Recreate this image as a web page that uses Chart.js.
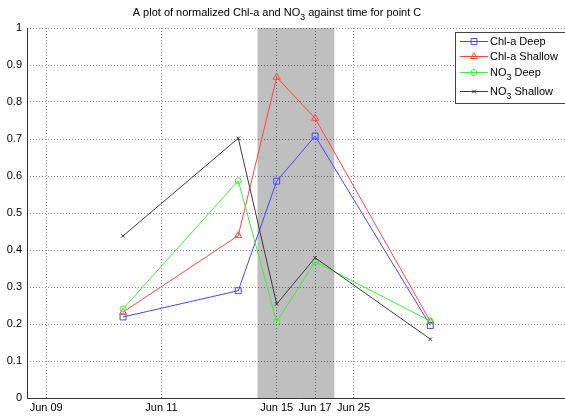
<!DOCTYPE html>
<html><head><meta charset="utf-8">
<script src="https://cdn.jsdelivr.net/npm/chart.js@4/dist/chart.umd.min.js"></script>
<style>html,body{margin:0;padding:0;background:#fff;overflow:hidden;width:565px;height:416px}</style>
</head><body>
<canvas id="c" width="570" height="416"></canvas>
<script>
const titleText = 'A plot of normalized Chl-a and NO₃ against time for point C';
const xPositions = [2, 5, 6, 7, 10];
const tickPositions = [0, 3, 6, 7, 8];
const tickLabels = ['Jun 09', 'Jun 11', 'Jun 15', 'Jun 17', 'Jun 25'];
const shadeRange = [5.5, 7.5];
const seriesNames = ['Chl-a Deep', 'Chl-a Shallow', 'NO₃ Deep', 'NO₃ Shallow'];
const chlaDeep = [0.219, 0.290, 0.586, 0.708, 0.196];
const chlaShallow = [0.232, 0.439, 0.867, 0.756, 0.207];
const no3Deep = [0.241, 0.587, 0.206, 0.368, 0.208];
const no3Shallow = [0.438, 0.702, 0.254, 0.379, 0.159];
const yMin = 0, yMax = 1, yStep = 0.1;
const xMin = -0.5, xMax = 13.5;

const FONT_FAMILY = '"Liberation Sans", Arial, sans-serif';
const colors = ['rgb(70,70,255)', 'rgb(255,70,70)', 'rgb(60,240,60)', 'rgb(60,60,60)'];
const styles = ['rect', 'triangle', 'circle', 'crossRot'];
const radii = [4.2, 4, 3, 2.5];
const seriesValues = [chlaDeep, chlaShallow, no3Deep, no3Shallow];

function drawRich(ctx, text, x, y, size, align) {
  const segs = [];
  for (const ch of text) {
    const sub = ch === '₃';
    const c = sub ? '3' : ch;
    if (segs.length && segs[segs.length - 1].sub === sub) segs[segs.length - 1].t += c;
    else segs.push({t: c, sub});
  }
  let total = 0;
  for (const s of segs) {
    ctx.font = (s.sub ? size * 0.8 : size) + 'px ' + FONT_FAMILY;
    s.w = ctx.measureText(s.t).width;
    total += s.w;
  }
  let cx = align === 'center' ? x - total / 2 : (align === 'right' ? x - total : x);
  ctx.textAlign = 'left';
  ctx.textBaseline = 'alphabetic';
  for (const s of segs) {
    ctx.font = (s.sub ? size * 0.8 : size) + 'px ' + FONT_FAMILY;
    ctx.fillText(s.t, cx, s.sub ? y + size * 0.38 : y);
    cx += s.w;
  }
}

function marker(ctx, style, r, x, y, color) {
  ctx.save();
  ctx.strokeStyle = color; ctx.lineWidth = 1; ctx.beginPath();
  if (style === 'rect') { const s = r * Math.SQRT1_2; ctx.rect(x - s, y - s, 2 * s, 2 * s); }
  else if (style === 'circle') { ctx.arc(x, y, r, 0, Math.PI * 2); }
  else if (style === 'triangle') {
    const h = r * 1.5, side = r * 3 / Math.sqrt(3);
    ctx.moveTo(x, y - h * 2 / 3); ctx.lineTo(x - side / 2, y + h / 3); ctx.lineTo(x + side / 2, y + h / 3); ctx.closePath();
  } else { const d = r * Math.SQRT1_2; ctx.moveTo(x - d, y - d); ctx.lineTo(x + d, y + d); ctx.moveTo(x + d, y - d); ctx.lineTo(x - d, y + d); }
  ctx.stroke(); ctx.restore();
}

const shadePlugin = {
  id: 'shade',
  beforeDraw(chart) {
    const {ctx, chartArea, scales} = chart;
    const x0 = scales.x.getPixelForValue(shadeRange[0]);
    const x1 = scales.x.getPixelForValue(shadeRange[1]);
    ctx.save();
    ctx.fillStyle = '#bfbfbf';
    ctx.fillRect(x0, chartArea.top, x1 - x0, chartArea.bottom - chartArea.top);
    ctx.restore();
  }
};

const overlayPlugin = {
  id: 'overlay',
  afterDraw(chart) {
    const ctx = chart.ctx;
    const ca = chart.chartArea;
    ctx.save();
    ctx.setLineDash([]);
    ctx.strokeStyle = '#333'; ctx.lineWidth = 1;
    ctx.beginPath();
    ctx.moveTo(Math.round(ca.left) + 0.5, ca.top);
    ctx.lineTo(Math.round(ca.left) + 0.5, Math.round(ca.bottom) + 0.5);
    ctx.lineTo(ca.right + 10, Math.round(ca.bottom) + 0.5);
    ctx.stroke();
    ctx.fillStyle = '#000';
    drawRich(ctx, titleText, 277, 15.5, 11, 'center');
    const bx = 455, by = 32, bw = 120, bh = 71;
    ctx.fillStyle = '#fff';
    ctx.fillRect(bx, by, bw, bh);
    ctx.strokeStyle = '#444'; ctx.lineWidth = 1;
    ctx.strokeRect(bx + 0.5, by + 0.5, bw, bh);
    const rows = [41, 56, 72, 91];
    seriesNames.forEach((name, i) => {
      const y = rows[i];
      ctx.strokeStyle = colors[i]; ctx.lineWidth = 1;
      ctx.beginPath(); ctx.moveTo(460, y + 0.5); ctx.lineTo(488, y + 0.5); ctx.stroke();
      marker(ctx, styles[i], radii[i], 474, y + 0.5, colors[i]);
      ctx.fillStyle = '#000';
      drawRich(ctx, name, 490, y + 4, 11, 'left');
    });
    ctx.restore();
  }
};

const datasets = seriesNames.map((name, i) => ({
  label: name,
  data: xPositions.map((x, j) => ({x, y: seriesValues[i][j]})),
  borderColor: colors[i],
  borderWidth: 1,
  pointStyle: styles[i],
  pointRadius: radii[i],
  pointBorderColor: colors[i],
  pointBackgroundColor: 'rgba(0,0,0,0)',
  pointBorderWidth: 1,
  tension: 0,
  order: 4 - i
}));

new Chart(document.getElementById('c'), {
  type: 'line',
  data: {datasets},
  options: {
    responsive: false,
    animation: false,
    devicePixelRatio: 1,
    layout: {padding: {top: 28, left: 0, right: 0, bottom: 0}},
    plugins: {legend: {display: false}, title: {display: false}, tooltip: {enabled: false}},
    scales: {
      x: {
        type: 'linear', min: xMin, max: xMax,
        afterFit: s => { s.height = 18; },
        afterBuildTicks: s => { s.ticks = tickPositions.map(v => ({value: v})); },
        ticks: {
          autoSkip: false, maxRotation: 0, padding: 3, color: '#000',
          font: {family: FONT_FAMILY, size: 11},
          callback: v => { const k = tickPositions.indexOf(v); return k >= 0 ? tickLabels[k] : ''; }
        },
        grid: {color: 'rgba(0,0,0,0.45)', lineWidth: 1, drawTicks: false, tickLength: 0},
        border: {display: false, dash: [1, 2]}
      },
      y: {
        type: 'linear', min: yMin, max: yMax,
        afterFit: s => { s.width = 27; },
        ticks: {
          stepSize: yStep, padding: 5, color: '#000',
          font: {family: FONT_FAMILY, size: 11},
          callback: v => Math.round(v * 10) / 10 + ''
        },
        grid: {color: 'rgba(0,0,0,0.45)', lineWidth: 1, drawTicks: false, tickLength: 0},
        border: {display: false, dash: [1, 2]}
      }
    }
  },
  plugins: [shadePlugin, overlayPlugin]
});
</script>
</body></html>
